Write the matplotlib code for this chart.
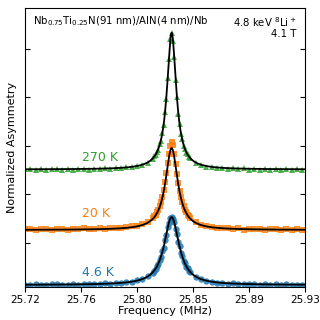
import numpy as np
import matplotlib
matplotlib.use("Agg")
import matplotlib.pyplot as plt

# Частоты (МГц) - общая сетка для всех трёх спектров
freq = [25.720, 25.724, 25.728, 25.732, 25.736, 25.740, 25.744, 25.748,
        25.752, 25.756, 25.760, 25.764, 25.768, 25.772, 25.776, 25.780,
        25.784, 25.788, 25.792, 25.796, 25.800, 25.804, 25.808, 25.812,
        25.816, 25.817, 25.818, 25.819, 25.820, 25.821, 25.822, 25.823,
        25.824, 25.825, 25.826, 25.827, 25.828, 25.829, 25.830, 25.831,
        25.832, 25.833, 25.834, 25.835, 25.836, 25.837, 25.838, 25.839,
        25.840, 25.841, 25.842, 25.843, 25.844,
        25.848, 25.852, 25.856, 25.860, 25.864, 25.868, 25.872, 25.876,
        25.880, 25.884, 25.888, 25.892, 25.896, 25.900, 25.904, 25.908,
        25.912, 25.916, 25.920, 25.924, 25.928]

# Сигнал (без смещения) для каждой температуры
asym_46K = [0.004, -0.003, 0.007, 0.002, -0.002, 0.006, 0.009, 0.001,
            0.000, 0.009, 0.005, 0.011, 0.006, 0.013, 0.009, 0.017,
            0.014, 0.022, 0.020, 0.030, 0.032, 0.048, 0.058, 0.090,
            0.128, 0.146, 0.166, 0.198, 0.218, 0.259, 0.290, 0.347,
            0.386, 0.461, 0.514, 0.594, 0.637, 0.690, 0.706, 0.680,
            0.650, 0.578, 0.526, 0.447, 0.398, 0.333, 0.299, 0.249,
            0.226, 0.189, 0.174, 0.146, 0.137,
            0.085, 0.064, 0.042, 0.036, 0.025, 0.024, 0.015, 0.017,
            0.010, 0.013, 0.007, 0.010, 0.004, 0.008, 0.003, 0.007,
            0.001, 0.006, 0.002, 0.005, 0.000]

asym_20K = [0.006, 0.011, -0.002, 0.009, 0.013, 0.002, 0.008, 0.012,
            0.000, 0.011, 0.007, 0.016, 0.006, 0.013, 0.016, 0.012,
            0.020, 0.024, 0.021, 0.031, 0.037, 0.046, 0.060, 0.082,
            0.124, 0.141, 0.158, 0.185, 0.210, 0.248, 0.290, 0.345,
            0.410, 0.490, 0.585, 0.690, 0.785, 0.865, 0.903, 0.872,
            0.780, 0.676, 0.578, 0.482, 0.405, 0.338, 0.287, 0.244,
            0.206, 0.183, 0.156, 0.140, 0.120,
            0.078, 0.056, 0.042, 0.034, 0.025, 0.017, 0.020, 0.009,
            0.016, 0.004, 0.013, 0.006, 0.014, 0.002, 0.010, 0.008,
            -0.002, 0.009, 0.003, 0.011, 0.002]

asym_270K = [0.002, 0.007, -0.003, 0.004, -0.004, 0.006, 0.003, -0.001,
             0.009, -0.003, 0.005, 0.008, -0.001, 0.010, 0.004, 0.012,
             0.003, 0.015, 0.012, 0.022, 0.021, 0.036, 0.044, 0.070,
             0.112, 0.138, 0.148, 0.184, 0.206, 0.258, 0.298, 0.380,
             0.456, 0.590, 0.730, 0.942, 1.140, 1.342, 1.404, 1.326,
             1.156, 0.925, 0.748, 0.575, 0.470, 0.366, 0.310, 0.246,
             0.215, 0.172, 0.158, 0.127, 0.118,
             0.068, 0.046, 0.030, 0.030, 0.015, 0.020, 0.008, 0.014,
             0.002, 0.011, -0.001, 0.008, -0.003, 0.006, -0.004, 0.007,
             -0.003, 0.004, -0.004, 0.006, -0.002]

labels = ["4.6 K", "20 K", "270 K"]
colors = ["#1f77b4", "#ff7f0e", "#2ca02c"]
markers = ["o", "s", "^"]
offsets = [-0.438, 0.129, 0.753]

# Параметры лоренцевой аппроксимации: амплитуда, центр, полуширина
fit_amp = [0.70, 0.845, 1.41]
fit_f0 = [25.830, 25.830, 25.830]
fit_gamma = [0.0068, 0.0056, 0.0042]

x_ticks = [25.72, 25.762, 25.804, 25.846, 25.888, 25.93]


def lorentz(f, a, f0, g):
    return a / (1 + ((f - f0) / g) ** 2)


fig = plt.figure(figsize=(3.2, 3.2), dpi=100)
ax = fig.add_axes([0.078, 0.103, 0.875, 0.872])

f_fine = np.linspace(25.72, 25.93, 1500)
data = [asym_46K, asym_20K, asym_270K]
label_y = [272.5, 213, 157]  # в пикселях сверху

for i in range(3):
    y = np.array(data[i]) + offsets[i]
    ax.plot(freq, y, markers[i], color=colors[i], markersize=4.6,
            markeredgewidth=0, alpha=0.85, zorder=2)
    ax.plot(f_fine, lorentz(f_fine, fit_amp[i], fit_f0[i], fit_gamma[i]) + offsets[i],
            color="black", linewidth=1.3, zorder=3)
    ax.text(0.2036, (287 - label_y[i]) / 279, labels[i], color=colors[i],
            fontsize=9, transform=ax.transAxes, ha="left", va="center")

ax.set_xlim(25.72, 25.93)
ax.set_ylim(-0.459, 2.418)
ax.set_xticks(x_ticks)
ax.set_xticklabels(["%.2f" % t for t in x_ticks], fontsize=7.5)
ax.set_yticks([0.0, 0.5, 1.0, 1.5, 2.0])
ax.set_yticklabels([])
ax.tick_params(axis="y", direction="in", left=True, right=True, length=3.5)
ax.tick_params(axis="x", length=3.5, pad=2)

ax.set_xlabel("Frequency (MHz)", fontsize=8, labelpad=1)
ax.set_ylabel("Normalized Asymmetry", fontsize=8, labelpad=2)

ax.text(0.029, 0.953, r"Nb$_{0.75}$Ti$_{0.25}$N(91 nm)/AlN(4 nm)/Nb",
        transform=ax.transAxes, fontsize=7.3, ha="left", va="center")
ax.text(0.971, 0.975, "4.8 keV $^{8}$Li$^+$\n4.1 T", transform=ax.transAxes,
        fontsize=7.3, ha="right", va="top", linespacing=1.0)

plt.savefig("out.png", dpi=100)
